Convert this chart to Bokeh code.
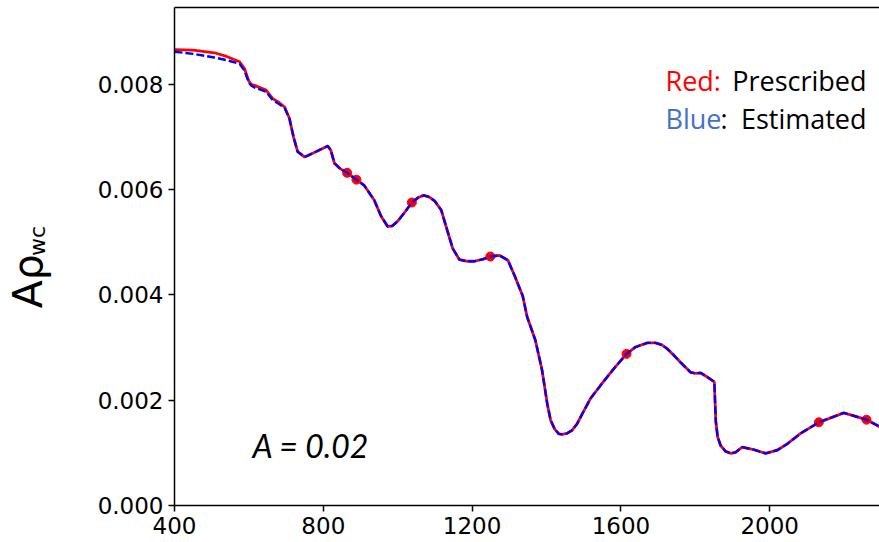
import math
from bokeh.plotting import figure
from bokeh.layouts import row
from bokeh.models import Label, LinearAxis, FixedTicker, NumeralTickFormatter, Range1d
from bokeh.embed import file_html
from bokeh.resources import INLINE

# wavelength (nm)
wl = [400, 450, 507, 540, 575, 588, 600, 606, 615, 646, 664, 680, 696, 709, 720, 731, 750, 780,
      812, 820, 830, 845, 864, 889, 910, 937, 955, 973, 985, 1000, 1020, 1038, 1055, 1070, 1085,
      1100, 1117, 1130, 1148, 1166, 1185, 1206, 1230, 1249, 1274, 1296, 1314, 1336, 1348, 1370,
      1388, 1402, 1411, 1422, 1433, 1442, 1455, 1469, 1482, 1496, 1518, 1545, 1581, 1615, 1639,
      1671, 1693, 1710, 1724, 1740, 1760, 1787, 1800, 1814, 1830, 1851, 1855, 1860, 1868, 1881,
      1895, 1908, 1926, 1957, 1989, 2020, 2047, 2083, 2132, 2199, 2260, 2300]

# prescribed A*rho_wc (red)
prescribed = [0.00866, 0.00865, 0.00860, 0.00853, 0.00843, 0.00830, 0.00806, 0.00800, 0.00798,
              0.00789, 0.00773, 0.00766, 0.00757, 0.00735, 0.00700, 0.00672, 0.00662, 0.00672,
              0.00683, 0.00675, 0.00650, 0.00640, 0.00632, 0.00619, 0.00608, 0.00580, 0.00550,
              0.00530, 0.00531, 0.00540, 0.00558, 0.005755, 0.00585, 0.00589, 0.00586, 0.00578,
              0.00561, 0.00530, 0.00488, 0.00467, 0.00464, 0.00464, 0.00468, 0.00473, 0.00475,
              0.00466, 0.00437, 0.00398, 0.00358, 0.00314, 0.00257, 0.00193, 0.00162, 0.00145,
              0.00136, 0.00135, 0.00137, 0.00143, 0.00155, 0.00174, 0.00203, 0.00228, 0.00260,
              0.00288, 0.00301, 0.00309, 0.00309, 0.00305, 0.00298, 0.00287, 0.00272, 0.00253,
              0.00251, 0.00252, 0.00245, 0.00235, 0.00160, 0.00130, 0.00114, 0.00103, 0.00099,
              0.00101, 0.00111, 0.00106, 0.00099, 0.00105, 0.00117, 0.00137, 0.00158, 0.00176,
              0.00163, 0.00148]

# estimated A*rho_wc (blue dashed)
estimated = [0.00862, 0.00858, 0.00851, 0.00846, 0.00839, 0.00826, 0.00803, 0.00798, 0.00794,
             0.00786, 0.00770, 0.00763, 0.00755, 0.00735, 0.00700, 0.00672, 0.00662, 0.00672,
             0.00683, 0.00675, 0.00650, 0.00640, 0.00632, 0.00619, 0.00608, 0.00580, 0.00550,
             0.00530, 0.00531, 0.00540, 0.00558, 0.005755, 0.00585, 0.00589, 0.00586, 0.00578,
             0.00561, 0.00530, 0.00488, 0.00467, 0.00464, 0.00464, 0.00468, 0.00473, 0.00475,
             0.00466, 0.00437, 0.00398, 0.00358, 0.00314, 0.00257, 0.00193, 0.00162, 0.00145,
             0.00136, 0.00135, 0.00137, 0.00143, 0.00155, 0.00174, 0.00203, 0.00228, 0.00260,
             0.00288, 0.00301, 0.00309, 0.00309, 0.00305, 0.00298, 0.00287, 0.00272, 0.00253,
             0.00251, 0.00252, 0.00245, 0.00235, 0.00160, 0.00130, 0.00114, 0.00103, 0.00099,
             0.00101, 0.00111, 0.00106, 0.00099, 0.00105, 0.00117, 0.00137, 0.00158, 0.00176,
             0.00163, 0.00148]

# sample points (red dots)
pts_wl = [864, 889, 1038, 1249, 1615, 2132, 2260]
pts_val = [0.00632, 0.00619, 0.005755, 0.00473, 0.00288, 0.00158, 0.00163]

x_ticks = [400, 800, 1200, 1600, 2000]
y_ticks = [0.0, 0.002, 0.004, 0.006, 0.008]

H = 542
LW = 90                      # width of the strip holding the y-axis title
W = 879 - LW
X0, X1 = 400, 2295
Y0, Y1 = 0.0, 0.00946
FL, FR, FT, FB = 174 - LW, W, 7, 505


def dx(px):
    px = px - LW
    return X0 + (px - FL) * (X1 - X0) / (FR - FL)


def dy(py):
    return Y0 + (FB - py) * (Y1 - Y0) / (FB - FT)


# ---- narrow strip with the rotated y-axis title ----
lab = figure(width=LW, height=H, x_range=Range1d(0, LW), y_range=Range1d(0, H),
             output_backend="svg", toolbar_location=None,
             x_axis_location=None, y_axis_location=None,
             min_border=0, min_border_left=0, min_border_right=0,
             min_border_top=0, min_border_bottom=0)
lab.outline_line_color = None
lab.grid.visible = False
lab.background_fill_color = "white"
lab.border_fill_color = "white"
lab.add_layout(Label(x=27, y=H - 298, text="A\u03c1", angle=90, angle_units="deg",
                     text_font="DejaVu Sans", text_font_size="41px", text_color="black",
                     text_align="center", text_baseline="middle"))
lab.add_layout(Label(x=37, y=H - 254, text="wc", angle=90, angle_units="deg",
                     text_font="DejaVu Sans", text_font_size="22px", text_color="black",
                     text_align="center", text_baseline="middle"))

# ---- main chart ----
p = figure(width=W, height=H, x_range=(X0, X1), y_range=(Y0, Y1),
           output_backend="svg", toolbar_location=None,
           min_border_left=FL, min_border_right=0, min_border_top=FT, min_border_bottom=H - FB)
p.grid.visible = False
p.outline_line_color = None
p.background_fill_color = "white"
p.border_fill_color = "white"

for ax in (p.xaxis[0], p.yaxis[0]):
    ax.major_label_text_font = "DejaVu Sans"
    ax.major_label_text_font_size = "23px"
    ax.major_label_text_color = "black"
    ax.axis_line_color = "black"
    ax.axis_line_width = 1.5
    ax.major_tick_line_color = "black"
    ax.major_tick_line_width = 1.5
    ax.major_tick_out = 6
    ax.major_tick_in = 0
    ax.minor_tick_line_color = None
    ax.major_label_standoff = 5

p.xaxis[0].ticker = FixedTicker(ticks=x_ticks)
p.yaxis[0].ticker = FixedTicker(ticks=y_ticks)
p.yaxis[0].formatter = NumeralTickFormatter(format="0.000")

top = LinearAxis(ticker=FixedTicker(ticks=[]), major_label_text_font_size="0px",
                 major_tick_out=0, major_tick_in=0, minor_tick_line_color=None,
                 major_label_standoff=0, axis_line_color="black", axis_line_width=1.5)
p.add_layout(top, "above")

p.line(wl, prescribed, line_color="#ff0000", line_width=2.8)
p.scatter(pts_wl, pts_val, size=9, fill_color="#ff0000", line_color="#ff0000")
p.line(wl, estimated, line_color="#0000ff", line_width=2.4, line_dash="8 3")

LF = "Open Sans"
FS = "27px"
p.add_layout(Label(x=dx(665), y=dy(80), text="Red:", text_font=LF, text_font_size=FS,
                   text_color="#ff0000", text_align="left", text_baseline="alphabetic"))
p.add_layout(Label(x=dx(866), y=dy(80), text="Prescribed", text_font=LF, text_font_size=FS,
                   text_color="black", text_align="right", text_baseline="alphabetic"))
p.add_layout(Label(x=dx(665), y=dy(118), text="Blue", text_font=LF, text_font_size=FS,
                   text_color="#4472c4", text_align="left", text_baseline="alphabetic"))
p.add_layout(Label(x=dx(720), y=dy(118), text=":", text_font=LF, text_font_size=FS,
                   text_color="black", text_align="left", text_baseline="alphabetic"))
p.add_layout(Label(x=dx(866), y=dy(118), text="Estimated", text_font=LF, text_font_size=FS,
                   text_color="black", text_align="right", text_baseline="alphabetic"))
p.add_layout(Label(x=dx(252), y=dy(445), text="A = 0.02", text_font="Lato", text_font_size="32px",
                   text_font_style="italic", text_color="black",
                   text_align="left", text_baseline="alphabetic"))

layout = row(lab, p, spacing=0)
open("out.html", "w").write(file_html(layout, INLINE))
